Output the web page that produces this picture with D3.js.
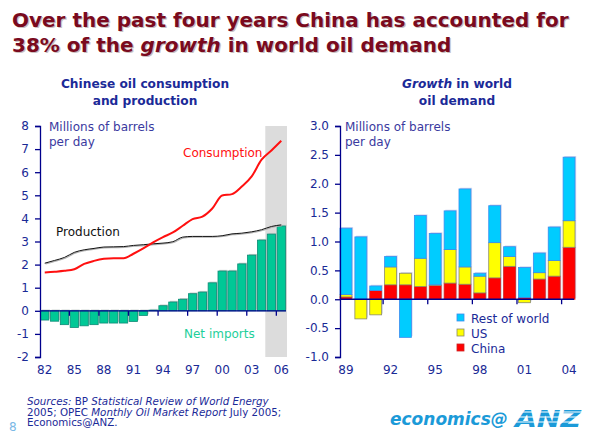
<!DOCTYPE html>
<html><head><meta charset="utf-8">
<script src="https://cdn.jsdelivr.net/npm/d3@7"></script>
<style>
body{margin:0;background:#fff;}
svg{display:block;font-family:"DejaVu Sans",Verdana,sans-serif;}
</style></head>
<body>
<svg id="c" width="591" height="434"></svg>
<script>
// ---------- data ----------
const years = d3.range(1982, 2007);
const yearLabels = ["82","85","88","91","94","97","00","03","06"];
const netImports = [-0.40,-0.45,-0.60,-0.72,-0.65,-0.60,-0.53,-0.53,-0.53,-0.46,-0.20,0.03,0.22,0.38,0.50,0.74,0.81,1.21,1.72,1.72,2.03,2.41,3.06,3.32,3.67];
const consumption = [1.66,1.69,1.73,1.80,2.03,2.16,2.25,2.28,2.28,2.47,2.70,2.96,3.19,3.39,3.68,3.97,4.08,4.43,4.99,5.05,5.38,5.82,6.54,6.94,7.36];
const production = [2.06,2.18,2.31,2.53,2.64,2.70,2.76,2.77,2.78,2.83,2.86,2.90,2.93,2.99,3.19,3.22,3.22,3.22,3.25,3.33,3.36,3.42,3.51,3.65,3.72];
const leftTicks = [-2,-1,0,1,2,3,4,5,6,7,8];

const gYears = d3.range(1989, 2005);
const gLabels = ["89","92","95","98","01","04"];
const china = [0.04,0.00,0.15,0.25,0.25,0.22,0.24,0.28,0.26,0.11,0.37,0.57,0.03,0.35,0.40,0.90];
const us    = [0.04,-0.34,-0.27,0.31,0.20,0.49,0.01,0.58,0.30,0.29,0.61,0.17,-0.06,0.11,0.27,0.46];
const rest  = [1.15,1.08,0.08,0.18,-0.66,0.74,0.89,0.67,1.35,0.05,0.64,0.17,0.52,0.34,0.58,1.10];
const rightTicks = [-1.0,-0.5,0.0,0.5,1.0,1.5,2.0,2.5,3.0];
const seriesNames = ["China","US","Rest of world"];

// ---------- styles ----------
const NAVY = "#1a2a96";
const AXIS = "#00008c";
const svg = d3.select("#c");

// ---------- titles ----------
const title = svg.append("g").attr("font-weight","bold").attr("font-size",20);
function titleLines(g, fill, dx, dy){
  g.append("text").attr("x",12+dx).attr("y",27+dy).attr("fill",fill)
    .text("Over the past four years China has accounted for");
  const t2 = g.append("text").attr("x",12+dx).attr("y",52+dy).attr("fill",fill);
  t2.append("tspan").text("38% of the ");
  t2.append("tspan").attr("font-style","italic").text("growth");
  t2.append("tspan").text(" in world oil demand");
}
titleLines(title, "#c8c0c0", 1.2, 1.2);
titleLines(title, "#7a0a1e", 0, 0);

const sub = svg.append("g").attr("font-weight","bold").attr("font-size",12.2).attr("fill","#1b2a98").attr("text-anchor","middle");
sub.append("text").attr("x",145).attr("y",88).text("Chinese oil consumption");
sub.append("text").attr("x",145).attr("y",104.5).text("and production");
const s2 = sub.append("text").attr("x",457).attr("y",88);
s2.append("tspan").attr("font-style","italic").text("Growth");
s2.append("tspan").text(" in world");
sub.append("text").attr("x",457).attr("y",104.5).text("oil demand");

// ---------- left chart ----------
const xL = d3.scaleBand().domain(years).range([40, 286]).paddingInner(0.16).paddingOuter(0.06);
const yL = d3.scaleLinear().domain([-2, 8]).range([357, 126]);
const L = svg.append("g");

// shaded forecast region
const shadeX = xL(2005) - xL.step()*0.2;
L.append("rect").attr("x", shadeX).attr("y", yL(8))
  .attr("width", 287 - shadeX).attr("height", yL(-2)-yL(8)).attr("fill","#dcdcdc");

// bars
const barData = years.map((y,i)=>({y, v: netImports[i]}));
L.selectAll("rect.sh").data(barData).join("rect").attr("class","sh")
  .attr("x", d=>xL(d.y)+1.2).attr("width", xL.bandwidth())
  .attr("y", d=>Math.min(yL(d.v), yL(0))-1.2).attr("height", d=>Math.abs(yL(d.v)-yL(0)))
  .attr("fill","#c4ccc8");
L.selectAll("rect.b").data(barData).join("rect").attr("class","b")
  .attr("x", d=>xL(d.y)).attr("width", xL.bandwidth())
  .attr("y", d=>Math.min(yL(d.v), yL(0))).attr("height", d=>Math.abs(yL(d.v)-yL(0)))
  .attr("fill","#00c896").attr("stroke","#0d8a76").attr("stroke-width",0.8);

// lines
const cx = y => xL(y) + xL.bandwidth()/2;
const line = d3.line().x(d=>cx(d.y)).y(d=>yL(d.v)).curve(d3.curveMonotoneX);
const prodData = years.map((y,i)=>({y, v: production[i]}));
L.append("path").datum(prodData)
  .attr("d", line).attr("fill","none").attr("stroke","#b0b0b0").attr("stroke-width",1.2).attr("transform","translate(0.8,0.8)");
L.append("path").datum(prodData)
  .attr("d", line).attr("fill","none").attr("stroke","#111").attr("stroke-width",1);
L.append("path").datum(years.map((y,i)=>({y, v: consumption[i]})))
  .attr("d", line).attr("fill","none").attr("stroke","#ff1010").attr("stroke-width",2);

// y axis
L.append("g").attr("transform","translate(40,0)")
  .call(d3.axisLeft(yL).tickValues(leftTicks).tickSize(5).tickPadding(6).tickFormat(d=>String(d)));
// zero line with ticks
const zeroL = L.append("g").attr("transform",`translate(0,${yL(0)})`)
  .call(d3.axisBottom(xL).tickValues(years.filter((y,i)=>i%3===0 && i>0)).tickSize(5).tickFormat(""));
zeroL.selectAll(".tick line").attr("transform", `translate(${-xL.step()*xL.paddingInner()/2 - xL.bandwidth()/2},0)`);
zeroL.select(".domain").attr("d", `M40,0H286`);
// labels at bottom
const labL = L.append("g").attr("transform","translate(0,357)")
  .call(d3.axisBottom(xL).tickValues(years.filter((y,i)=>i%3===0)).tickSize(0).tickPadding(8)
    .tickFormat(d=>yearLabels[(d-1982)/3]));
labL.select(".domain").remove();

// annotations
const ann = L.append("g").attr("font-size",12);
ann.append("text").attr("x",49).attr("y",131).attr("fill","#3a3aa0").text("Millions of barrels");
ann.append("text").attr("x",49).attr("y",146).attr("fill","#3a3aa0").text("per day");
ann.append("text").attr("x",183).attr("y",157).attr("fill","#ff1010").text("Consumption");
ann.append("text").attr("x",56).attr("y",236).attr("fill","#111").text("Production");
ann.append("text").attr("x",184).attr("y",338).attr("fill","#1ecf9a").text("Net imports");

// ---------- right chart ----------
const xR = d3.scaleBand().domain(gYears).range([340, 575]).paddingInner(0.2).paddingOuter(0);
const yR = d3.scaleLinear().domain([-1, 3]).range([357, 126]);
const R = svg.append("g");
const table = gYears.map((y,i)=>({year:y, "China":china[i], "US":us[i], "Rest of world":rest[i]}));
const stacked = d3.stack().keys(seriesNames).offset(d3.stackOffsetDiverging)(table);
const fills = {"China":"#ff0000","US":"#ffff00","Rest of world":"#00ccff"};
const strokes = {"China":"#cc2222","US":"#8a8a6a","Rest of world":"#3a8cf0"};

stacked.forEach(s=>{
  R.append("g").selectAll("rect").data(s.filter(d=>Math.abs(d[1]-d[0])>0.001)).join("rect")
    .attr("x", d=>xR(d.data.year)+1.2).attr("width", xR.bandwidth())
    .attr("y", d=>yR(Math.max(d[0],d[1]))-1.2).attr("height", d=>Math.abs(yR(d[0])-yR(d[1])))
    .attr("fill","#d4d8ec");
});
stacked.forEach(s=>{
  R.append("g").selectAll("rect").data(s.filter(d=>Math.abs(d[1]-d[0])>0.001)).join("rect")
    .attr("x", d=>xR(d.data.year)).attr("width", xR.bandwidth())
    .attr("y", d=>yR(Math.max(d[0],d[1]))).attr("height", d=>Math.abs(yR(d[0])-yR(d[1])))
    .attr("fill", fills[s.key]).attr("stroke", strokes[s.key]).attr("stroke-width",0.8);
});

R.append("g").attr("transform","translate(340,0)")
  .call(d3.axisLeft(yR).tickValues(rightTicks).tickSize(5).tickPadding(6).tickFormat(d=>d.toFixed(1)));
const zeroR = R.append("g").attr("transform",`translate(0,${yR(0)})`)
  .call(d3.axisBottom(xR).tickValues(gYears.filter((y,i)=>i%3===0 && i>0)).tickSize(5).tickFormat(""));
zeroR.selectAll(".tick line").attr("transform", `translate(${-xR.step()*xR.paddingInner()/2 - xR.bandwidth()/2},0)`);
zeroR.select(".domain").attr("d","M340,0H574");
const labR = R.append("g").attr("transform","translate(0,357)")
  .call(d3.axisBottom(xR).tickValues(gYears.filter((y,i)=>i%3===0)).tickSize(0).tickPadding(8)
    .tickFormat(d=>gLabels[(d-1989)/3]));
labR.select(".domain").remove();

R.append("text").attr("x",345).attr("y",131).attr("font-size",12).attr("fill","#3a3aa0").text("Millions of barrels");
R.append("text").attr("x",345).attr("y",146).attr("font-size",12).attr("fill","#3a3aa0").text("per day");

// legend
const legendOrder = ["Rest of world","US","China"];
const lg = R.append("g").attr("font-size",12);
legendOrder.forEach((k,i)=>{
  const yy = 318 + i*15;
  lg.append("rect").attr("x",457).attr("y",yy-4).attr("width",7).attr("height",7)
    .attr("fill",fills[k]).attr("stroke",strokes[k]).attr("stroke-width",0.8);
  lg.append("text").attr("x",471).attr("y",yy+4.5).attr("fill","#1b2a98").text(k);
});

// axis styling
svg.selectAll(".domain, .tick line").attr("stroke",AXIS).attr("stroke-width",1.3);
svg.selectAll(".tick text").attr("fill",NAVY).attr("font-size",12).attr("font-family","DejaVu Sans, Verdana, sans-serif");

// ---------- footer ----------
const ft = svg.append("g").attr("font-size",10.3).attr("fill","#1b2a98");
const f1 = ft.append("text").attr("x",27).attr("y",405);
f1.append("tspan").attr("font-style","italic").text("Sources:");
f1.append("tspan").text(" BP ");
f1.append("tspan").attr("font-style","italic").text("Statistical Review of World Energy");
const f2 = ft.append("text").attr("x",27).attr("y",415.5);
f2.append("tspan").text("2005; OPEC ");
f2.append("tspan").attr("font-style","italic").text("Monthly Oil Market Report");
f2.append("tspan").text(" July 2005;");
ft.append("text").attr("x",27).attr("y",426).text("Economics@ANZ.");
svg.append("text").attr("x",9).attr("y",431).attr("font-size",12).attr("fill","#7ab8e6").text("8");

const logo = svg.append("g");
logo.append("text").attr("x",390).attr("y",425).attr("font-size",17).attr("font-weight","bold")
  .attr("font-style","italic").attr("fill","#1b9ad8").text("economics@");
logo.append("text").attr("x",515).attr("y",427).attr("font-size",23).attr("font-weight","bold")
  .attr("font-style","italic").attr("fill","#1b9ad8").attr("textLength",66).attr("lengthAdjust","spacingAndGlyphs").text("ANZ");
[412, 417, 422].forEach(yy=>{
  logo.append("line").attr("x1",510).attr("x2",585).attr("y1",yy).attr("y2",yy).attr("stroke","#fff").attr("stroke-width",1.2);
});
</script>
</body></html>
